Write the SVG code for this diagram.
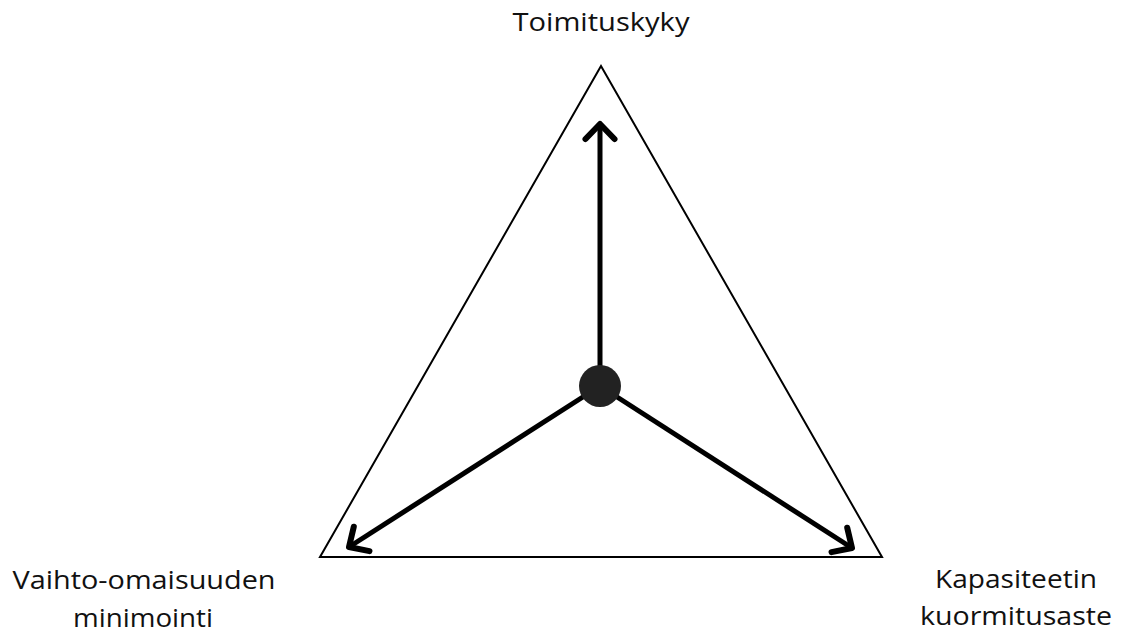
<svg xmlns="http://www.w3.org/2000/svg" width="1122" height="635" viewBox="0 0 1122 635">
  <style>
    .lbl { font-family: "Open Sans", "Liberation Sans", sans-serif; font-size: 26px; fill: #111; text-anchor: middle; }
    .arrow { stroke: #000; stroke-width: 5; fill: none; }
  </style>
  <defs>
    <marker id="head" markerUnits="userSpaceOnUse" markerWidth="40" markerHeight="40" refX="21" refY="20" orient="auto" viewBox="0 0 40 40">
      <path d="M6,5.5 L21,20 L6,34.5" fill="none" stroke="#000" stroke-width="6" stroke-linejoin="round" stroke-linecap="round"/>
    </marker>
  </defs>
  <rect width="1122" height="635" fill="#fff"/>
  <g id="triangle">
    <polygon points="601,66 320,557 882,557" fill="none" stroke="#000" stroke-width="2"/>
  </g>
  <g id="connectors">
    <line class="arrow" x1="600" y1="386" x2="600" y2="124" marker-end="url(#head)"/>
    <line class="arrow" x1="600" y1="386" x2="349" y2="547" marker-end="url(#head)"/>
    <line class="arrow" x1="600" y1="386" x2="852" y2="548" marker-end="url(#head)"/>
  </g>
  <g id="center">
    <circle cx="600" cy="386" r="21" fill="#222"/>
  </g>
  <g id="label-top">
    <text class="lbl" x="601" y="31" textLength="177" lengthAdjust="spacingAndGlyphs">Toimituskyky</text>
  </g>
  <g id="label-left">
    <text class="lbl" x="144" y="589" textLength="263" lengthAdjust="spacingAndGlyphs">Vaihto-omaisuuden</text>
    <text class="lbl" x="143" y="627" textLength="140" lengthAdjust="spacingAndGlyphs">minimointi</text>
  </g>
  <g id="label-right">
    <text class="lbl" x="1016" y="588" textLength="162" lengthAdjust="spacingAndGlyphs">Kapasiteetin</text>
    <text class="lbl" x="1016" y="625" textLength="192" lengthAdjust="spacingAndGlyphs">kuormitusaste</text>
  </g>
</svg>
